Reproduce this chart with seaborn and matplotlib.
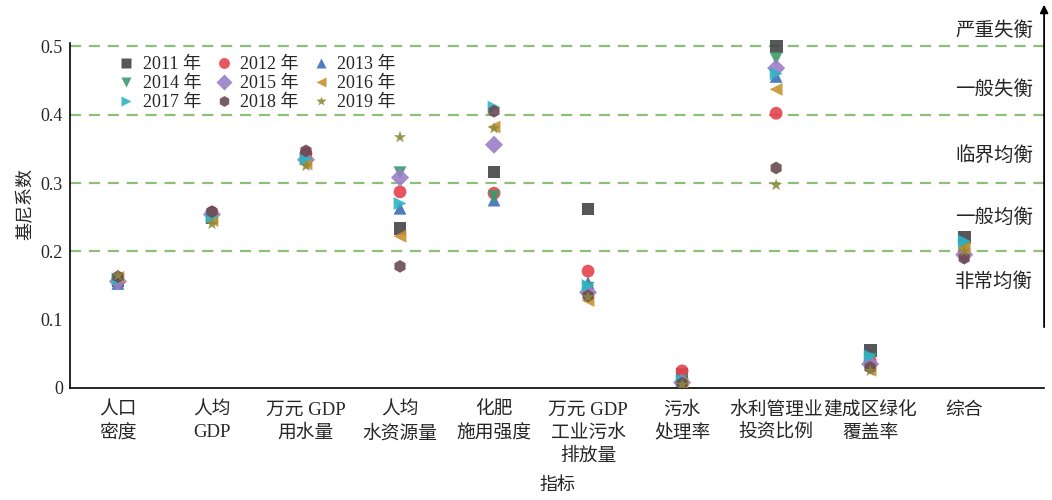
import matplotlib
matplotlib.use("Agg")
import matplotlib.pyplot as plt
import numpy as np
import pandas as pd
import seaborn as sns

# 指标与年份
categories = ["人口\n密度", "人均\nGDP", "万元 GDP\n用水量", "人均\n水资源量", "化肥\n施用强度",
              "万元 GDP\n工业污水\n排放量", "污水\n处理率", "水利管理业\n投资比例", "建成区绿化\n覆盖率", "综合"]
years = ["2011 年", "2012 年", "2013 年", "2014 年", "2015 年", "2016 年", "2017 年", "2018 年", "2019 年"]

# 基尼系数 (按指标顺序)
g2011 = [0.157, 0.250, 0.338, 0.234, 0.316, 0.262, 0.020, 0.500, 0.055, 0.220]
g2012 = [0.160, 0.257, 0.343, 0.287, 0.285, 0.171, 0.025, 0.402, 0.040, 0.198]
g2013 = [0.153, 0.252, 0.336, 0.263, 0.275, 0.154, 0.012, 0.456, 0.038, 0.213]
g2014 = [0.158, 0.248, 0.330, 0.315, 0.280, 0.146, 0.010, 0.482, 0.042, 0.205]
g2015 = [0.156, 0.254, 0.334, 0.308, 0.356, 0.140, 0.008, 0.468, 0.035, 0.195]
g2016 = [0.162, 0.245, 0.328, 0.222, 0.382, 0.128, 0.006, 0.437, 0.026, 0.205]
g2017 = [0.159, 0.250, 0.335, 0.270, 0.411, 0.150, 0.011, 0.460, 0.047, 0.215]
g2018 = [0.163, 0.258, 0.347, 0.178, 0.405, 0.135, 0.007, 0.322, 0.030, 0.190]
g2019 = [0.165, 0.240, 0.325, 0.367, 0.380, 0.133, 0.005, 0.297, 0.025, 0.200]

levels = [0.2, 0.3, 0.4, 0.5]
level_names = ["非常均衡", "一般均衡", "临界均衡", "一般失衡", "严重失衡"]
level_pos = [0.155, 0.250, 0.340, 0.436, 0.523]

colors = ["#454547", "#e5434f", "#3d6fb6", "#3c9a6c", "#9a7fc6", "#c8922f", "#2fb4c4", "#6b4a52", "#8c8a3a"]
markers = ["s", "o", "^", "v", "D", "<", ">", "h", "*"]

all_vals = [g2011, g2012, g2013, g2014, g2015, g2016, g2017, g2018, g2019]
df = pd.DataFrame({
    "x": np.tile(np.arange(len(categories)), len(years)),
    "gini": np.concatenate(all_vals),
    "year": np.repeat(years, len(categories)),
})

sns.set_style("white")
plt.rcParams["font.family"] = ["Liberation Serif", "Noto Sans CJK SC"]
plt.rcParams["axes.unicode_minus"] = False

fig = plt.figure(figsize=(10.52, 5), dpi=100)
ax = fig.add_axes([0.0665, 0.224, 0.926, 0.738])

for lv in levels:
    ax.axhline(lv, color="#8cc07a", lw=1.6, ls=(0, (5, 3.5)), zorder=1)

sns.scatterplot(data=df, x="x", y="gini", hue="year", style="year",
                palette=colors, markers=markers, s=85, edgecolor="none",
                alpha=0.9, ax=ax, zorder=3)

ax.set_xlim(-0.51, 9.85)
ax.set_ylim(0, 0.54)
ax.set_xticks(np.arange(len(categories)))
ax.set_xticklabels(categories, fontsize=13.5, linespacing=1.42, va="top")
ax.set_yticks([0, 0.1, 0.2, 0.3, 0.4, 0.5])
ax.set_yticklabels(["0", "0.1", "0.2", "0.3", "0.4", "0.5"], fontsize=13)
ax.tick_params(axis="y", direction="in", length=5, width=1, color="black", pad=5)
ax.tick_params(axis="x", direction="in", length=5, width=1, color="black", pad=10)
ax.set_xlabel("指标", fontsize=13, labelpad=9)
ax.set_ylabel("基尼系数", fontsize=13, labelpad=4)

for sp in ["top", "right"]:
    ax.spines[sp].set_visible(False)
for sp in ["left", "bottom"]:
    ax.spines[sp].set_color("black")
    ax.spines[sp].set_linewidth(1.2)
ax.spines["left"].set_bounds(0, 0.505)

for name, yp in zip(level_names, level_pos):
    ax.text(9.32, yp, name, ha="center", va="center", fontsize=14, clip_on=False)

ax.annotate("", xy=(9.85, 0.565), xytext=(9.85, 0.085),
            xycoords="data", textcoords="data", annotation_clip=False,
            arrowprops=dict(arrowstyle="-|>", color="black", lw=1.3, mutation_scale=12))

# 图例按行排列
handles, labels = ax.get_legend_handles_labels()
order = [0, 3, 6, 1, 4, 7, 2, 5, 8]
ax.legend([handles[i] for i in order], [labels[i] for i in order],
          loc="upper left", bbox_to_anchor=(0.045, 0.9), ncol=3, frameon=False,
          fontsize=13, handletextpad=0.2, columnspacing=0.55, labelspacing=0.12,
          borderaxespad=0, borderpad=0, handlelength=1.4, markerscale=0.85)

fig.savefig("out.png", dpi=100)
